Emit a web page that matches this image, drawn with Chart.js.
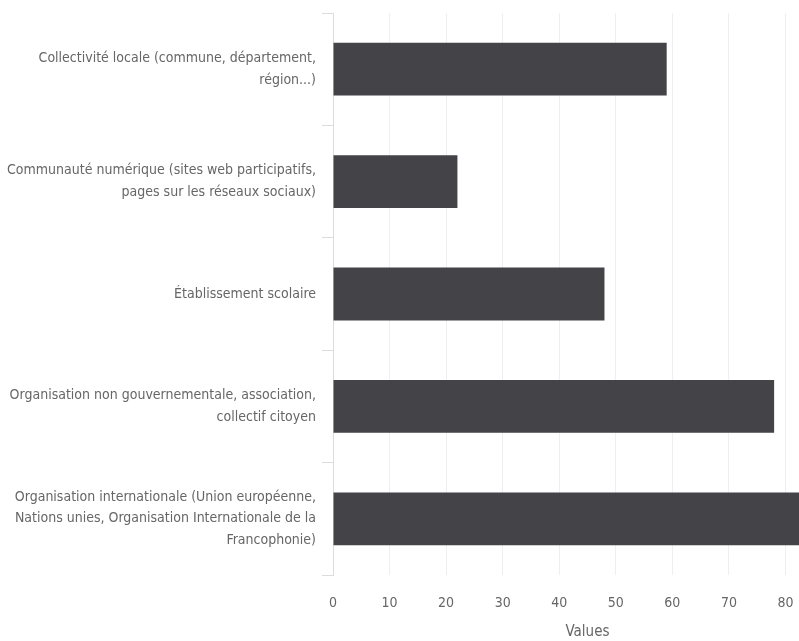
<!DOCTYPE html>
<html lang="fr">
<head>
    <meta charset="UTF-8">
    <title>Values</title>
    <script src="https://cdn.jsdelivr.net/npm/chart.js"></script>
    <style>
        html, body {
            margin: 0;
            padding: 0;
            background: white;
            overflow: hidden;
        }

        /* the reference is cropped on the right, so the chart is a bit wider than the window */
        #wrap {
            position: relative;
            width: 842px;
            height: 641px;
        }
    </style>
</head>
<body>
    <div id="wrap">
        <canvas id="chart"></canvas>
    </div>
    <script>
        // categories (wrapped the way the reference shows them)
        var categories = [
            ['Collectivité locale (commune, département,', 'région...)'],
            ['Communauté numérique (sites web participatifs,', 'pages sur les réseaux sociaux)'],
            'Établissement scolaire',
            ['Organisation non gouvernementale, association,', 'collectif citoyen'],
            ['Organisation internationale (Union européenne,', 'Nations unies, Organisation Internationale de la', 'Francophonie)']
        ];
        var values = [59, 22, 48, 78, 86];
        var axisTitle = 'Values';

        var fontFamily = "'Liberation Sans Narrow', 'DejaVu Sans Condensed', 'Liberation Sans', sans-serif";
        var textColor = '#666';

        var ctx = document.getElementById('chart').getContext('2d');
        var chart = new Chart(ctx, {
            type: 'bar',
            data: {
                labels: categories,
                datasets: [{
                    label: axisTitle,
                    data: values,
                    backgroundColor: '#434348',
                    borderWidth: 0,
                    barPercentage: 0.47,
                    categoryPercentage: 1
                }]
            },
            options: {
                indexAxis: 'y',
                responsive: true,
                maintainAspectRatio: false,
                animation: false,
                layout: {
                    padding: { top: 13, left: 0, right: 0, bottom: 0 }
                },
                plugins: {
                    legend: { display: false },
                    tooltip: { enabled: false }
                },
                scales: {
                    x: {
                        min: 0,
                        max: 90,
                        border: { display: false },
                        grid: {
                            color: '#efefef',
                            drawTicks: false
                        },
                        ticks: {
                            stepSize: 10,
                            padding: 20,
                            color: textColor,
                            font: { family: fontFamily, size: 14 }
                        },
                        title: {
                            display: true,
                            text: axisTitle,
                            color: textColor,
                            padding: { top: 3, bottom: 0 },
                            font: { family: fontFamily, size: 15 }
                        },
                        afterFit: function (scale) {
                            scale.height = 66;
                            scale.paddingLeft = 0;
                            scale.paddingRight = 0;
                        }
                    },
                    y: {
                        border: { display: true, color: '#dcdcdc' },
                        grid: {
                            offset: true,
                            drawOnChartArea: false,
                            tickLength: 11,
                            color: '#dcdcdc'
                        },
                        ticks: {
                            padding: 6,
                            color: textColor,
                            font: { family: fontFamily, size: 14, lineHeight: 1.55 }
                        },
                        afterFit: function (scale) {
                            scale.width = 333;
                            scale.paddingTop = 0;
                            scale.paddingBottom = 0;
                        }
                    }
                }
            }
        });
    </script>
</body>
</html>
